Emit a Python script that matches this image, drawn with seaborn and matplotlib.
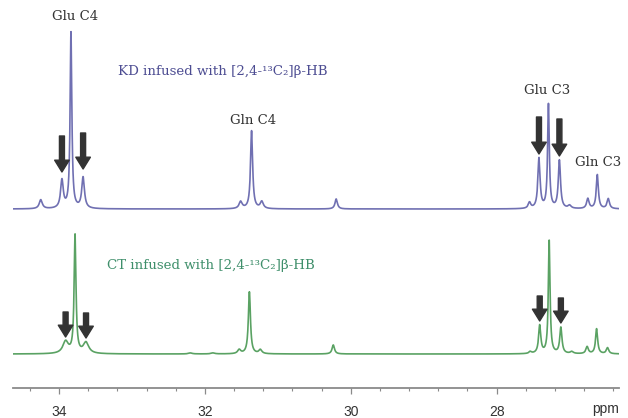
import numpy as np
import pandas as pd
import matplotlib
matplotlib.use("Agg")
import matplotlib.pyplot as plt
from matplotlib.ticker import MultipleLocator, FixedLocator
import seaborn as sns

# ---------------- data ----------------
# top spectrum: KD infused
kd_ppm    = [34.25, 33.96, 33.836, 33.67, 31.51, 31.36, 31.22, 30.20, 27.55, 27.42, 27.29, 27.14, 27.00, 26.75, 26.62, 26.47]
kd_height = [9,     28,    176,    31,    7,     78,    7,     10,    6,     50,    104,   48,    3,     10,    34,    10]
kd_width  = [0.025, 0.022, 0.014,  0.022, 0.025, 0.017, 0.025, 0.02,  0.02,  0.018, 0.014, 0.018, 0.025, 0.02,  0.017, 0.02]

# bottom spectrum: CT infused
ct_ppm    = [33.91, 33.78, 33.63, 32.20, 31.89, 31.53, 31.39, 31.24, 30.24, 27.54, 27.41, 27.28, 27.12, 26.97, 26.76, 26.63, 26.48]
ct_height = [12,    118,   11,    1,     1,     4,     62,    4,     9,     2,     28,    113,   26,    2,     7,     25,    6]
ct_width  = [0.045, 0.015, 0.045, 0.03,  0.03,  0.025, 0.017, 0.025, 0.02,  0.02,  0.018, 0.014, 0.018, 0.025, 0.02,  0.017, 0.02]

kd_arrows = [33.96, 33.67, 27.42, 27.14]
ct_arrows = [33.91, 33.63, 27.41, 27.12]

peak_labels = ["Glu C4", "Gln C4", "Glu C3", "Gln C3"]
label_ppm   = [33.78, 31.34, 27.31, 26.61]
label_y     = [371, 267, 298, 226]

kd_title = "KD infused with [2,4-\u00b9\u00b3C\u2082]\u03b2-HB"
ct_title = "CT infused with [2,4-\u00b9\u00b3C\u2082]\u03b2-HB"

xticks = [34, 32, 30, 28]

# ---------------- styling ----------------
KD_LINE = "#7070b2"
CT_LINE = "#5aa263"
KD_TEXT = "#4d4d92"
CT_TEXT = "#3f8f6b"
ARROW = "#333333"

kd_base = 179
ct_base = 34

sns.set_theme(style="white")
plt.rcParams["font.family"] = ["DejaVu Serif"]

fig = plt.figure(figsize=(6.28, 4.18), dpi=100)
ax = fig.add_axes([13 / 628, 30 / 418, 606 / 628, 388 / 418])

x = np.linspace(26.2, 34.8, 9000)

def spectrum(pos, hts, wds, base):
    y = np.full_like(x, base, dtype=float)
    for p, h, w in zip(pos, hts, wds):
        y += h * w**2 / ((x - p) ** 2 + w**2)
    return y

df = pd.concat([
    pd.DataFrame({"ppm": x, "y": spectrum(kd_ppm, kd_height, kd_width, kd_base), "s": "KD"}),
    pd.DataFrame({"ppm": x, "y": spectrum(ct_ppm, ct_height, ct_width, ct_base), "s": "CT"}),
])
sns.lineplot(data=df, x="ppm", y="y", hue="s", palette={"KD": KD_LINE, "CT": CT_LINE},
             linewidth=1.2, legend=False, ax=ax, sort=False, estimator=None)

ax.set_xlim(34.631, 26.323)
ax.set_ylim(0, 388)

# arrows
def draw_arrows(arr, pos, hts, base, gap, length):
    for a in arr:
        i = int(np.argmin(np.abs(np.array(pos) - a)))
        top = base + hts[i] + gap
        ax.annotate("", xy=(a, top), xytext=(a, top + length),
                    arrowprops=dict(arrowstyle="simple,head_length=0.85,head_width=1.05,tail_width=0.36",
                                    color=ARROW, shrinkA=0, shrinkB=0, mutation_scale=10))

draw_arrows(kd_arrows[:2], kd_ppm, kd_height, kd_base, 9, 36)
draw_arrows(kd_arrows[2:], kd_ppm, kd_height, kd_base, 5, 37)
draw_arrows(ct_arrows, ct_ppm, ct_height, ct_base, 5, 25)

for t, p, yy in zip(peak_labels, label_ppm, label_y):
    ax.text(p, yy, t, ha="center", va="center", fontsize=9.5, color="#333333")

ax.text(33.195, 316, kd_title, ha="left", va="center", fontsize=9.6, color=KD_TEXT)
ax.text(33.337, 123, ct_title, ha="left", va="center", fontsize=9.6, color=CT_TEXT)

# axes styling
for s in ["top", "left", "right"]:
    ax.spines[s].set_visible(False)
ax.spines["bottom"].set_color("#8a8a8a")
ax.spines["bottom"].set_linewidth(1.3)
ax.set_yticks([])
ax.xaxis.set_major_locator(FixedLocator(xticks))
ax.xaxis.set_minor_locator(MultipleLocator(0.4))
ax.tick_params(axis="x", which="major", direction="out", length=4, width=0.9, color="#8a8a8a",
               labelsize=10, labelcolor="#333333", pad=8, bottom=True)
ax.tick_params(axis="x", which="minor", direction="out", length=2.5, width=0.8, color="#8a8a8a", bottom=True)
for lab in ax.get_xticklabels():
    lab.set_family("Liberation Sans")
ax.set_xlabel("")
ax.set_ylabel("")
ax.text(1.0, -0.055, "ppm", transform=ax.transAxes, ha="right", va="center",
        fontsize=10, color="#333333", family="Liberation Sans")
ax.patch.set_alpha(0)

fig.savefig("out.png", dpi=100)
